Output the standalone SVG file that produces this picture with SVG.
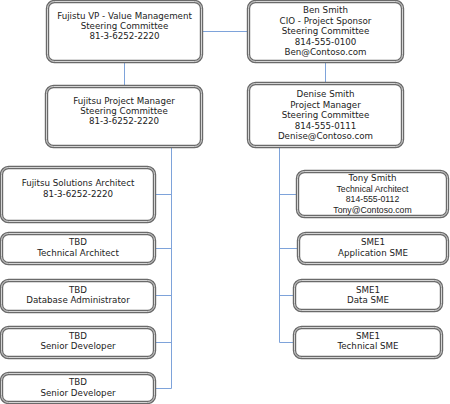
<svg xmlns="http://www.w3.org/2000/svg" width="450" height="404" viewBox="0 0 450 404">
<style>
.b{fill:#fff;stroke:#6a6a6a;stroke-width:3.4}
.bi{fill:none;stroke:#d4d4d4;stroke-width:1}
.t{font-family:"DejaVu Sans",Verdana,sans-serif;font-size:8.7px;fill:#222;text-anchor:middle}
.a{font-family:"Liberation Sans",Arial,sans-serif;font-size:8.7px;fill:#222;text-anchor:middle}
.c{fill:none;stroke:#7ea3da;stroke-width:1}
</style>
<rect width="450" height="404" fill="#fff"/>
<g id="connectors">
<path class="c" d="M202 31.5H248"/>
<path class="c" d="M124.5 62V86"/>
<path class="c" d="M325.5 62V83"/>
<path class="c" d="M171.5 147V388.5M155 194.5H171.5M155 248.5H171.5M155 295.5H171.5M155 342.5H171.5M155 388.5H171.5"/>
<path class="c" d="M279.5 147V342.5M279.5 194.5H297M279.5 248.5H298M279.5 295.5H294M279.5 342.5H294"/>
</g>
<g id="vp">
<rect class="b" x="47.5" y="1.5" width="154" height="60" rx="7"/>
<rect class="bi" x="47.5" y="1.5" width="154" height="60" rx="7"/>
<text class="t" x="124.5" y="19">Fujistu VP - Value Management</text>
<text class="t" x="124.5" y="29">Steering Committee</text>
<text class="t" x="124.5" y="39">81-3-6252-2220</text>
</g>
<g id="ben">
<rect class="b" x="248.5" y="1.5" width="154" height="60" rx="7"/>
<rect class="bi" x="248.5" y="1.5" width="154" height="60" rx="7"/>
<text class="t" x="325.5" y="13">Ben Smith</text>
<text class="t" x="325.5" y="23.5">CIO - Project Sponsor</text>
<text class="t" x="325.5" y="34">Steering Committee</text>
<text class="t" x="325.5" y="44.5">814-555-0100</text>
<text class="t" x="325.5" y="55">Ben@Contoso.com</text>
</g>
<g id="fpm">
<rect class="b" x="46.5" y="86.5" width="155" height="60" rx="7"/>
<rect class="bi" x="46.5" y="86.5" width="155" height="60" rx="7"/>
<text class="t" x="124" y="104">Fujitsu Project Manager</text>
<text class="t" x="124" y="114">Steering Committee</text>
<text class="t" x="124" y="124">81-3-6252-2220</text>
</g>
<g id="denise">
<rect class="b" x="248.5" y="83.5" width="154" height="63" rx="7"/>
<rect class="bi" x="248.5" y="83.5" width="154" height="63" rx="7"/>
<text class="t" x="325.5" y="97">Denise Smith</text>
<text class="t" x="325.5" y="107.5">Project Manager</text>
<text class="t" x="325.5" y="118">Steering Committee</text>
<text class="t" x="325.5" y="128.5">814-555-0111</text>
<text class="t" x="325.5" y="139">Denise@Contoso.com</text>
</g>
<g id="fsa">
<rect class="b" x="1.5" y="167.5" width="153" height="54" rx="7"/>
<rect class="bi" x="1.5" y="167.5" width="153" height="54" rx="7"/>
<text class="t" x="78" y="186">Fujitsu Solutions Architect</text>
<text class="t" x="78" y="196.5">81-3-6252-2220</text>
</g>
<g id="tbd1">
<rect class="b" x="1.5" y="233.5" width="153" height="30" rx="7"/>
<rect class="bi" x="1.5" y="233.5" width="153" height="30" rx="7"/>
<text class="t" x="78" y="245">TBD</text>
<text class="t" x="78" y="255.5">Technical Architect</text>
</g>
<g id="tbd2">
<rect class="b" x="1.5" y="280.5" width="153" height="31" rx="7"/>
<rect class="bi" x="1.5" y="280.5" width="153" height="31" rx="7"/>
<text class="t" x="78" y="292.5">TBD</text>
<text class="t" x="78" y="303">Database Administrator</text>
</g>
<g id="tbd3">
<rect class="b" x="1.5" y="327.5" width="153" height="30" rx="7"/>
<rect class="bi" x="1.5" y="327.5" width="153" height="30" rx="7"/>
<text class="t" x="78" y="338.5">TBD</text>
<text class="t" x="78" y="349">Senior Developer</text>
</g>
<g id="tbd4">
<rect class="b" x="1.5" y="373.5" width="153" height="29" rx="7"/>
<rect class="bi" x="1.5" y="373.5" width="153" height="29" rx="7"/>
<text class="t" x="78" y="385">TBD</text>
<text class="t" x="78" y="395.5">Senior Developer</text>
</g>
<g id="tony">
<rect class="b" x="297.5" y="171.5" width="150" height="45" rx="7"/>
<rect class="bi" x="297.5" y="171.5" width="150" height="45" rx="7"/>
<text class="t" x="372.5" y="181">Tony Smith</text>
<text class="a" x="372.5" y="192">Technical Architect</text>
<text class="a" x="372.5" y="202">814-555-0112</text>
<text class="a" x="372.5" y="212.5">Tony@Contoso.com</text>
</g>
<g id="sme1">
<rect class="b" x="298.5" y="233.5" width="149" height="30" rx="7"/>
<rect class="bi" x="298.5" y="233.5" width="149" height="30" rx="7"/>
<text class="t" x="373" y="245">SME1</text>
<text class="t" x="373" y="255.5">Application SME</text>
</g>
<g id="sme2">
<rect class="b" x="294.5" y="280.5" width="147" height="30" rx="7"/>
<rect class="bi" x="294.5" y="280.5" width="147" height="30" rx="7"/>
<text class="t" x="368" y="292.5">SME1</text>
<text class="t" x="368" y="303">Data SME</text>
</g>
<g id="sme3">
<rect class="b" x="294.5" y="327.5" width="147" height="30" rx="7"/>
<rect class="bi" x="294.5" y="327.5" width="147" height="30" rx="7"/>
<text class="t" x="368" y="338.5">SME1</text>
<text class="t" x="368" y="349">Technical SME</text>
</g>
</svg>
